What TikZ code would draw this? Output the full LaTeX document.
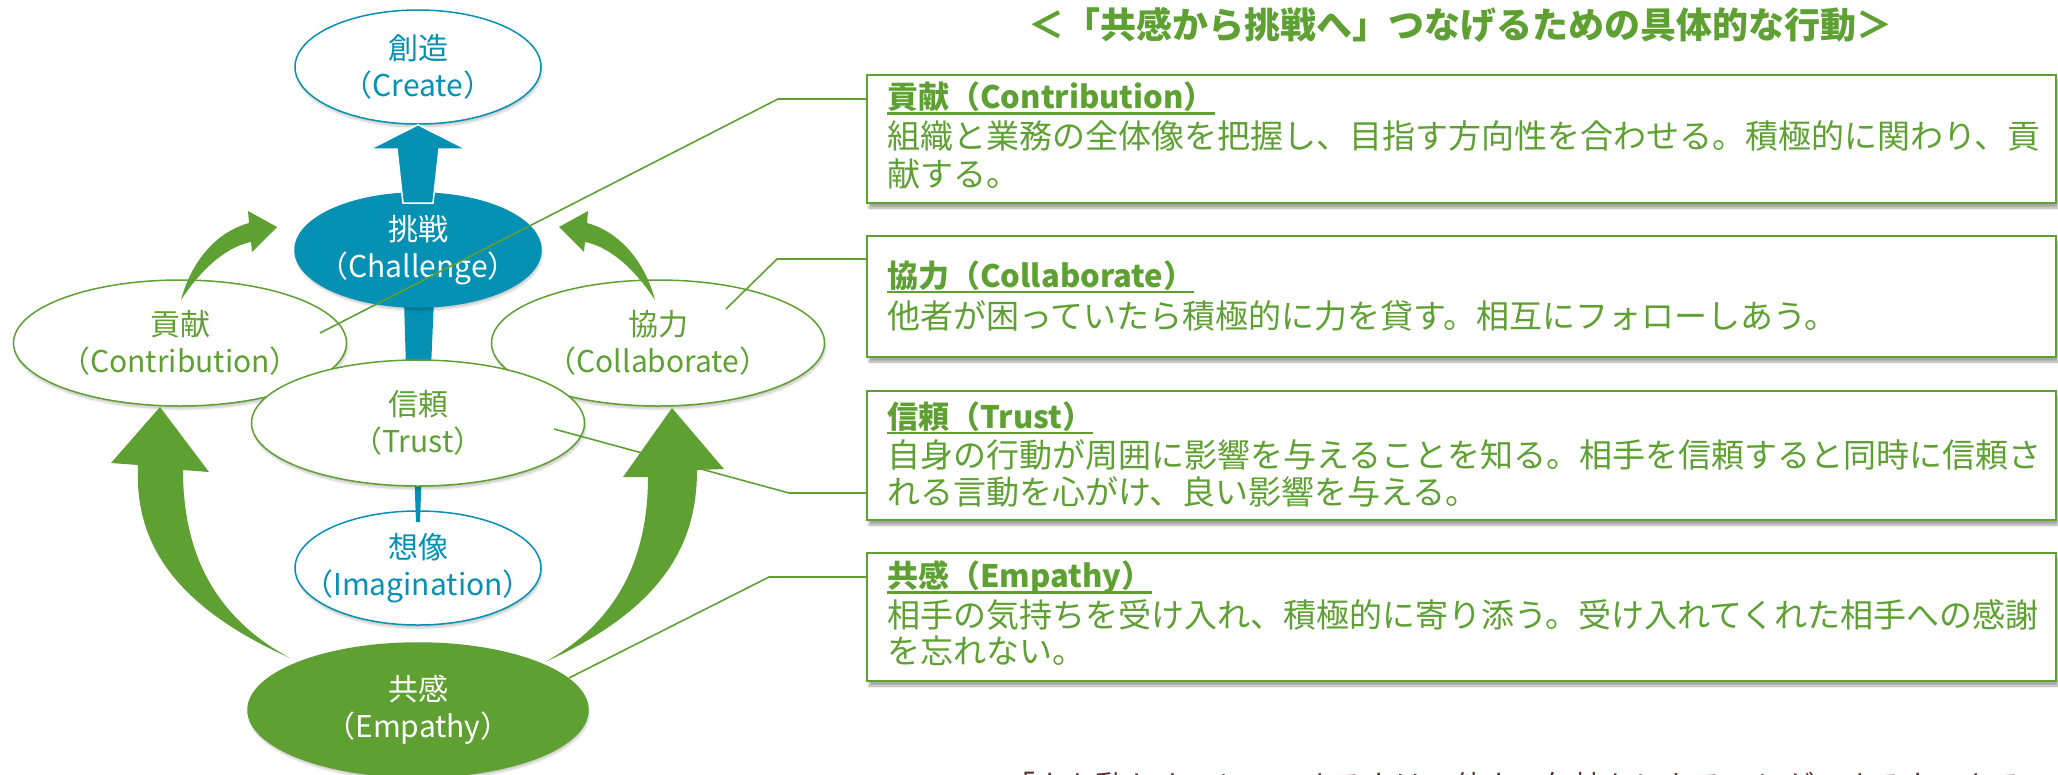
\documentclass[tikz,border=0pt]{standalone}
\usepackage{fontspec}
\setmainfont{Noto Sans CJK JP}
\usetikzlibrary{shapes.geometric,calc,shadows.blur}
\definecolor{grn}{RGB}{95,160,51}
\definecolor{blu}{RGB}{4,145,180}
\definecolor{qcol}{RGB}{92,44,44}
\tikzset{
  ell/.style={ellipse, inner sep=0pt, line width=1.5pt},
  eshadow/.style={blur shadow={shadow xshift=1pt, shadow yshift=-3pt, shadow opacity=22, shadow blur steps=6}},
  gell/.style={ell, draw=grn, fill=white, minimum width=333pt, minimum height=126pt, eshadow},
  bell/.style={ell, draw=blu, fill=white, minimum width=246pt, minimum height=114pt, eshadow},
  lbl/.style={align=center, inner sep=0pt, font={\fontsize{30}{37}\selectfont}},
  infobox/.style={draw=grn, line width=2.5pt, fill=white, minimum width=1189pt, inner sep=0pt,
    blur shadow={shadow xshift=2pt, shadow yshift=-5pt, shadow opacity=35, shadow blur steps=6}},
  head/.style={inner sep=0pt, anchor=base west, text=grn, font={\fontsize{31}{31}\selectfont\bfseries}},
  body/.style={inner sep=0pt, anchor=base west, text=grn, font={\fontsize{33}{33}\selectfont}},
  uline/.style={draw=grn, line width=2.2pt},
  leader/.style={draw=grn, line width=1.6pt},
  titletext/.style={inner sep=0pt, text=grn, font={\fontsize{36}{36}\selectfont\bfseries}},
  quotetext/.style={inner sep=0pt, anchor=base west, text=qcol, font={\fontsize{30}{30}\selectfont}},
  garrow/.style={fill=grn},
}
\begin{document}
\begin{tikzpicture}[x=1pt,y=-1pt]
\useasboundingbox (0,0) rectangle (2058,774);
\clip (0,0) rectangle (2058,774);

% blue shaft between Challenge and Trust
\fill[blu] (404,300) -- (434,300) -- (431,368) -- (406,368) -- cycle;

% ellipses
\node[bell] (create) at (418,67) {};
\node[ell, fill=blu, draw=blu, minimum width=246pt, minimum height=114pt, eshadow] (chal) at (418,250) {};
\node[gell] (contr) at (180,343) {};
\node[gell] (collab) at (658,343) {};
\node[bell] (imag) at (418,568) {};
\fill[blu] (414.5,480) -- (421.5,480) -- (420,522) -- (416,522) -- cycle;
\node[gell] (trust) at (418,423) {};
\node[ell, fill=grn, draw=grn, minimum width=340pt, minimum height=134pt, eshadow] (emp) at (418,710) {};

% blue arrow Challenge -> Create
\filldraw[fill=blu, draw=white, line width=1.5pt] (create.south) -- (466,149) -- (439,149) -- (433,203) -- (403,203) -- (397,149) -- (370,149) -- cycle;

% small green curved arrows
\fill[garrow] (655,300) .. controls (645,262) and (620,232) .. (587,223) -- (588,211) -- (559,227) -- (584,252) -- (585,242) .. controls (605,246) and (630,262) .. (655,300) -- cycle;
\fill[garrow] (181,300) .. controls (191,262) and (216,232) .. (249,223) -- (248,211) -- (277,227) -- (252,252) -- (251,242) .. controls (231,246) and (206,262) .. (181,300) -- cycle;

% big green arrows from Empathy
\fill[garrow] (290,658) .. controls (160,600) and (135,530) .. (138,465) -- (111,463) -- (160,407) -- (209,472) -- (183,470) .. controls (183,560) and (220,620) .. (290,658) -- cycle;
\fill[garrow] (545,662) .. controls (672,605) and (697,535) .. (697,470) -- (724,469) -- (672,408) -- (623,477) -- (648,477) .. controls (648,565) and (612,625) .. (545,662) -- cycle;

% labels
\node[lbl, text=blu] (createl) at (create) {創造\\（Create）};
\node[lbl, text=white] (chall) at (chal) {挑戦\\（Challenge）};
\node[lbl, text=grn] (contrl) at (contr) {貢献\\（Contribution）};
\node[lbl, text=grn] (collabl) at (collab) {協力\\（Collaborate）};
\node[lbl, text=grn] (trustl) at (trust) {信頼\\（Trust）};
\node[lbl, text=blu] (imagl) at (imag) {想像\\（Imagination）};
\node[lbl, text=white] (empl) at (emp) {共感\\（Empathy）};

% title
\node[titletext] (title) at (1460,25) {＜「共感から挑戦へ」つなげるための具体的な行動＞};

% boxes
\node[infobox, minimum height=128pt] (box1) at (1461.5,139) {};
\node[infobox, minimum height=121pt] (box2) at (1461.5,296.5) {};
\node[infobox, minimum height=129pt] (box3) at (1461.5,455.5) {};
\node[infobox, minimum height=128pt] (box4) at (1461.5,617) {};

\node[head] (h1) at (887,108.5) {貢献（Contribution）};
\draw[uline] ($(h1.base west)+(0,5)$) -- ($(h1.base east)+(0,5)$);
\node[body] (t1a) at (887,148) {組織と業務の全体像を把握し、目指す方向性を合わせる。積極的に関わり、貢};
\node[body] (t1b) at (887,186) {献する。};

\node[head] (h2) at (887,287) {協力（Collaborate）};
\draw[uline] ($(h2.base west)+(0,5)$) -- ($(h2.base east)+(0,5)$);
\node[body] (t2a) at (887,328.5) {他者が困っていたら積極的に力を貸す。相互にフォローしあう。};

\node[head] (h3) at (887,428) {信頼（Trust）};
\draw[uline] ($(h3.base west)+(0,5)$) -- ($(h3.base east)+(0,5)$);
\node[body] (t3a) at (887,467.5) {自身の行動が周囲に影響を与えることを知る。相手を信頼すると同時に信頼さ};
\node[body] (t3b) at (887,504.5) {れる言動を心がけ、良い影響を与える。};

\node[head] (h4) at (887,587.5) {共感（Empathy）};
\draw[uline] ($(h4.base west)+(0,5)$) -- ($(h4.base east)+(0,5)$);
\node[body] (t4a) at (887,627) {相手の気持ちを受け入れ、積極的に寄り添う。受け入れてくれた相手への感謝};
\node[body] (t4b) at (887,663) {を忘れない。};

% quote at the bottom (cut off by the page edge, as in the original)
\node[quotetext] (quote) at (1005,797) {「人を動かすことのできる人は、他人の気持ちになることができる人である」};

% leader lines
\coordinate (c1s) at (320,333);
\coordinate (c1k) at (778,99);
\coordinate (c2s) at (726,309);
\coordinate (c2k) at (777,259);
\coordinate (c3s) at (554,429);
\coordinate (c3k) at (789,493);
\coordinate (c4s) at (569,678);
\coordinate (c4k) at (769,577);
\draw[leader] (c1s) -- (c1k) -- (c1k -| box1.west);
\draw[leader] (c2s) -- (c2k) -- (c2k -| box2.west);
\draw[leader] (c3s) -- (c3k) -- (c3k -| box3.west);
\draw[leader] (c4s) -- (c4k) -- (c4k -| box4.west);
\end{tikzpicture}
\end{document}
